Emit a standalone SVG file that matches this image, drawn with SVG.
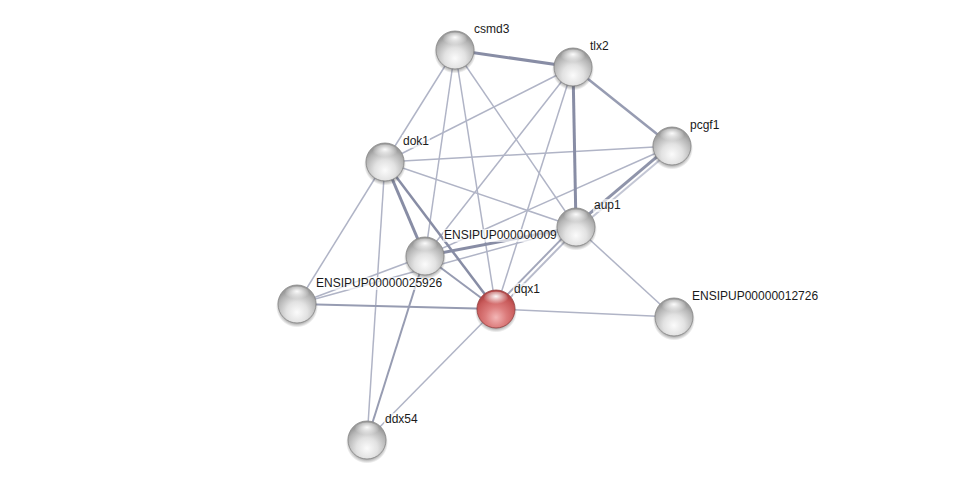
<svg xmlns="http://www.w3.org/2000/svg" width="976" height="485" viewBox="0 0 976 485">
<defs>
<style>
.e1{stroke:#b0b4c6;stroke-width:1.5;fill:none}
.e2{stroke:#979cb2;stroke-width:2;fill:none}
.e3{stroke:#888da5;stroke-width:3;fill:none}
.lb{fill:#ffffff;fill-opacity:0.65}
.lt{font-family:"Liberation Sans",Arial,sans-serif;font-size:12px;fill:#1a1a1a}
</style>
<radialGradient id="gb" cx="0.5" cy="0.72" r="0.62">
<stop offset="0" stop-color="#fbfbfb"/>
<stop offset="0.45" stop-color="#e2e2e2"/>
<stop offset="0.85" stop-color="#b4b4b4"/>
<stop offset="1" stop-color="#9c9c9c"/>
</radialGradient>
<radialGradient id="gr" cx="0.5" cy="0.72" r="0.62">
<stop offset="0" stop-color="#f3b6b6"/>
<stop offset="0.45" stop-color="#dc7c7c"/>
<stop offset="0.85" stop-color="#c85a5a"/>
<stop offset="1" stop-color="#b44848"/>
</radialGradient>
<radialGradient id="hl" cx="0.5" cy="0.35" r="0.55">
<stop offset="0" stop-color="#ffffff" stop-opacity="0.95"/>
<stop offset="1" stop-color="#ffffff" stop-opacity="0"/>
</radialGradient>
<radialGradient id="sh" cx="0.5" cy="0.5" r="0.5">
<stop offset="0.75" stop-color="#444" stop-opacity="0.55"/>
<stop offset="1" stop-color="#444" stop-opacity="0"/>
</radialGradient>
<g id="ball">
<circle cx="0" cy="2.5" r="21" fill="url(#sh)"/>
<circle cx="0" cy="0" r="19" fill="url(#gb)" stroke="#858585" stroke-width="0.8"/>
<ellipse cx="0" cy="-10.5" rx="12" ry="7" fill="url(#hl)"/>
</g>
<g id="rball">
<circle cx="0" cy="2.5" r="21" fill="url(#sh)"/>
<circle cx="0" cy="0" r="19" fill="url(#gr)" stroke="#964040" stroke-width="0.8"/>
<ellipse cx="0" cy="-10.5" rx="12" ry="7" fill="url(#hl)"/>
</g>
</defs>
<rect width="976" height="485" fill="#ffffff"/>
<g id="connectors">
<line class="e1" x1="455" y1="50" x2="385" y2="162"/>
<line class="e1" x1="455" y1="50" x2="425" y2="256"/>
<line class="e1" x1="455" y1="50" x2="496" y2="309"/>
<line class="e1" x1="455" y1="50" x2="576" y2="227"/>
<line class="e1" x1="573" y1="67" x2="385" y2="162"/>
<line class="e1" x1="573" y1="67" x2="425" y2="256"/>
<line class="e1" x1="573" y1="67" x2="496" y2="309"/>
<line class="e1" x1="672" y1="146" x2="385" y2="162"/>
<line class="e1" x1="672" y1="146" x2="425" y2="256"/>
<line class="e1" x1="385" y1="162" x2="576" y2="227"/>
<line class="e1" x1="385" y1="162" x2="297" y2="304"/>
<line class="e1" x1="385" y1="162" x2="367" y2="440"/>
<line class="e1" x1="297" y1="304" x2="425" y2="256"/>
<line class="e1" x1="297" y1="304" x2="576" y2="227"/>
<line class="e1" x1="576" y1="227" x2="674" y2="317"/>
<line class="e1" x1="496" y1="309" x2="674" y2="317"/>
<line class="e1" x1="496" y1="309" x2="367" y2="440"/>
<line class="e2" x1="297" y1="304" x2="496" y2="309"/>
<line class="e2" x1="425" y1="256" x2="367" y2="440"/>
<line class="e2" x1="425" y1="256" x2="496" y2="309"/>
<line class="e2" x1="573" y1="67" x2="672" y2="146" style="stroke-width:2.5"/>
<line class="e3" x1="455" y1="50" x2="573" y2="67"/>
<line class="e3" x1="573" y1="67" x2="576" y2="227"/>
<line class="e3" x1="385" y1="162" x2="425" y2="256"/>
<line class="e3" x1="385" y1="162" x2="496" y2="309" style="stroke-width:2.5"/>
<line class="e3" x1="425" y1="256" x2="576" y2="227"/>
<line x1="575" y1="225.9" x2="671" y2="144.9" stroke="#8f94aa" stroke-width="3"/>
<line x1="577.8" y1="229.2" x2="673.8" y2="148.2" stroke="#c3c6d4" stroke-width="2"/>
<line x1="574.6" y1="225.6" x2="494.6" y2="307.6" stroke="#a3a7bb" stroke-width="2"/>
<line x1="577.6" y1="228.6" x2="497.6" y2="310.6" stroke="#b8bbcb" stroke-width="2"/>
</g>
<g id="labels">
<g id="label-csmd3"><rect class="lb" x="473" y="23" width="34" height="13"/><text class="lt" x="474" y="33">csmd3</text></g>
<g id="label-tlx2"><rect class="lb" x="589" y="40" width="22" height="13"/><text class="lt" x="590" y="50">tlx2</text></g>
<g id="label-pcgf1"><rect class="lb" x="689" y="119" width="32" height="13"/><text class="lt" x="690" y="129">pcgf1</text></g>
<g id="label-dok1"><rect class="lb" x="402" y="135" width="28" height="13"/><text class="lt" x="403" y="145">dok1</text></g>
<g id="label-aup1"><rect class="lb" x="593" y="199" width="29" height="13"/><text class="lt" x="594" y="209">aup1</text></g>
<g id="label-ens9"><rect class="lb" x="443" y="229" width="114" height="13"/><text class="lt" x="444" y="239">ENSIPUP000000009</text></g>
<g id="label-ens25926"><rect class="lb" x="315" y="277" width="128" height="13"/><text class="lt" x="316" y="287">ENSIPUP00000025926</text></g>
<g id="label-dqx1"><rect class="lb" x="513" y="283" width="29" height="13"/><text class="lt" x="514" y="293">dqx1</text></g>
<g id="label-ens12726"><rect class="lb" x="691" y="290" width="128" height="13"/><text class="lt" x="692" y="300">ENSIPUP00000012726</text></g>
<g id="label-ddx54"><rect class="lb" x="384" y="413" width="35" height="13"/><text class="lt" x="385" y="423">ddx54</text></g>
</g>
<g id="node-csmd3"><use href="#ball" x="455" y="50"/></g>
<g id="node-tlx2"><use href="#ball" x="573" y="67"/></g>
<g id="node-pcgf1"><use href="#ball" x="672" y="146"/></g>
<g id="node-dok1"><use href="#ball" x="385" y="162"/></g>
<g id="node-aup1"><use href="#ball" x="576" y="227"/></g>
<g id="node-ens9"><use href="#ball" x="425" y="256"/></g>
<g id="node-ens25926"><use href="#ball" x="297" y="304"/></g>
<g id="node-dqx1"><use href="#rball" x="496" y="309"/></g>
<g id="node-ens12726"><use href="#ball" x="674" y="317"/></g>
<g id="node-ddx54"><use href="#ball" x="367" y="440"/></g>
</svg>
